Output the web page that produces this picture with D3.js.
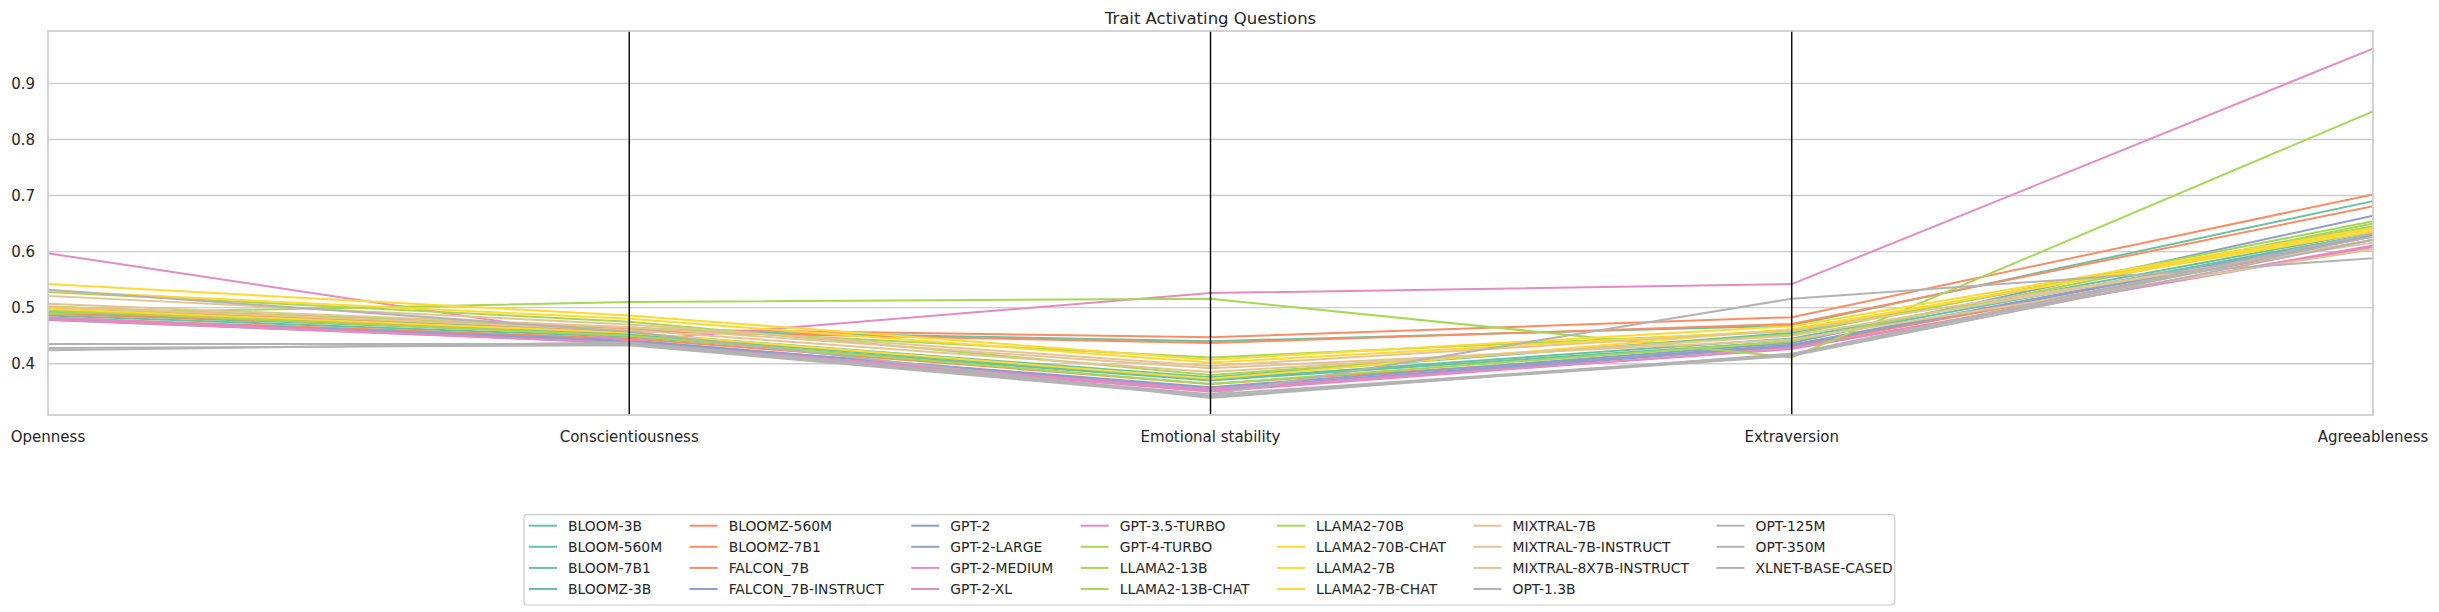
<!DOCTYPE html>
<html>
<head>
<meta charset="utf-8">
<script src="https://cdn.jsdelivr.net/npm/d3@7"></script>
<style>
  body { margin: 0; background: #fff; }
  text { font-family: "DejaVu Sans", sans-serif; fill: #262626; }
</style>
</head>
<body>
<div id="main"></div>
<script>
var traits = ["Openness", "Conscientiousness", "Emotional stability", "Extraversion", "Agreeableness"];

var models = [
    "BLOOM-3B", "BLOOM-560M", "BLOOM-7B1", "BLOOMZ-3B",
    "BLOOMZ-560M", "BLOOMZ-7B1", "FALCON_7B", "FALCON_7B-INSTRUCT",
    "GPT-2", "GPT-2-LARGE", "GPT-2-MEDIUM", "GPT-2-XL",
    "GPT-3.5-TURBO", "GPT-4-TURBO", "LLAMA2-13B", "LLAMA2-13B-CHAT",
    "LLAMA2-70B", "LLAMA2-70B-CHAT", "LLAMA2-7B", "LLAMA2-7B-CHAT",
    "MIXTRAL-7B", "MIXTRAL-7B-INSTRUCT", "MIXTRAL-8X7B-INSTRUCT", "OPT-1.3B",
    "OPT-125M", "OPT-350M", "XLNET-BASE-CASED"
];

// one row per model, in trait order
var scores = [
    [0.493, 0.455, 0.376, 0.455, 0.645],
    [0.490, 0.452, 0.372, 0.445, 0.636],
    [0.495, 0.460, 0.440, 0.468, 0.690],
    [0.486, 0.448, 0.370, 0.440, 0.632],
    [0.482, 0.445, 0.364, 0.430, 0.621],
    [0.498, 0.462, 0.447, 0.483, 0.702],
    [0.489, 0.458, 0.437, 0.471, 0.681],
    [0.480, 0.440, 0.358, 0.437, 0.664],
    [0.478, 0.438, 0.352, 0.432, 0.627],
    [0.481, 0.442, 0.355, 0.434, 0.630],
    [0.479, 0.437, 0.354, 0.426, 0.611],
    [0.483, 0.436, 0.350, 0.428, 0.608],
    [0.597, 0.441, 0.526, 0.542, 0.962],
    [0.489, 0.510, 0.516, 0.411, 0.850],
    [0.495, 0.450, 0.364, 0.440, 0.650],
    [0.528, 0.475, 0.380, 0.452, 0.654],
    [0.502, 0.465, 0.411, 0.458, 0.645],
    [0.542, 0.486, 0.407, 0.467, 0.642],
    [0.498, 0.455, 0.373, 0.462, 0.636],
    [0.530, 0.480, 0.402, 0.460, 0.640],
    [0.521, 0.470, 0.396, 0.459, 0.616],
    [0.507, 0.465, 0.392, 0.443, 0.604],
    [0.502, 0.460, 0.385, 0.450, 0.620],
    [0.435, 0.435, 0.345, 0.416, 0.627],
    [0.428, 0.433, 0.342, 0.414, 0.621],
    [0.532, 0.457, 0.339, 0.418, 0.632],
    [0.424, 0.438, 0.345, 0.516, 0.588]
];

var yTicks = [0.4, 0.5, 0.6, 0.7, 0.8, 0.9];
var set2 = ["#66c2a5", "#fc8d62", "#8da0cb", "#e78ac3", "#a6d854", "#ffd92f", "#e5c494", "#b3b3b3"];

var ctx = {
    w: 2439,
    h: 612,
    left: 48,
    right: 2373,
    top: 31,
    bottom: 415,
};

// Set2 sampled evenly over the models, like a listed colormap
var colorOf = function (i) {
    var k = Math.floor(i / (models.length - 1) * set2.length);
    return set2[Math.min(k, set2.length - 1)];
};

var svg = d3.select("#main").append("svg")
    .attr("width", ctx.w)
    .attr("height", ctx.h);

var x = d3.scalePoint().domain(traits).range([ctx.left, ctx.right]);
var y = d3.scaleLinear().domain([0.3085, 0.9935]).range([ctx.bottom, ctx.top]);

// horizontal grid
svg.append("g").selectAll("line")
    .data(yTicks).enter().append("line")
    .attr("x1", ctx.left).attr("x2", ctx.right)
    .attr("y1", d => y(d)).attr("y2", d => y(d))
    .attr("stroke", "#cccccc").attr("stroke-width", 1.4);

// series
var line = d3.line().x((d, i) => x(traits[i])).y(d => y(d));
svg.append("g").attr("id", "series").selectAll("path")
    .data(scores).enter().append("path")
    .attr("d", d => line(d))
    .attr("fill", "none")
    .attr("stroke", (d, i) => colorOf(i))
    .attr("stroke-width", 2);

// inner trait axes
svg.append("g").selectAll("line")
    .data(traits.slice(1, -1)).enter().append("line")
    .attr("x1", d => x(d)).attr("x2", d => x(d))
    .attr("y1", ctx.top).attr("y2", ctx.bottom)
    .attr("stroke", "#000").attr("stroke-width", 1.4);

// frame
svg.append("rect")
    .attr("x", ctx.left).attr("y", ctx.top)
    .attr("width", ctx.right - ctx.left).attr("height", ctx.bottom - ctx.top)
    .attr("fill", "none").attr("stroke", "#cccccc").attr("stroke-width", 1.7);

// y tick labels
svg.append("g").selectAll("text")
    .data(yTicks).enter().append("text")
    .attr("x", 35).attr("y", d => y(d)).attr("dy", "0.35em")
    .attr("text-anchor", "end").style("font-size", "15px")
    .text(d3.format(".1f"));

// x tick labels
svg.append("g").selectAll("text")
    .data(traits).enter().append("text")
    .attr("x", d => x(d)).attr("y", 437).attr("dy", "0.35em")
    .attr("text-anchor", "middle").style("font-size", "15px")
    .text(d => d);

svg.append("text")
    .attr("x", (ctx.left + ctx.right) / 2).attr("y", 24)
    .attr("text-anchor", "middle").style("font-size", "16.5px")
    .text("Trait Activating Questions");

// legend, 7 columns of 4 rows, filled column by column
var nRows = 4, fs = 13.9;
var leg = svg.append("g");
var box = leg.append("rect")
    .attr("fill", "#fff").attr("stroke", "#cccccc").attr("stroke-width", 1.2)
    .attr("rx", 3);
var items = leg.selectAll("g.item")
    .data(models).enter().append("g").attr("class", "item");
items.append("text")
    .style("font-size", fs + "px").attr("dy", "0.35em")
    .text(d => d);

var nCols = Math.ceil(models.length / nRows);
var colW = [];
items.each(function (d, i) {
    var c = Math.floor(i / nRows);
    var w = this.querySelector("text").getComputedTextLength();
    colW[c] = Math.max(colW[c] || 0, w);
});
var handleLen = 28, handlePad = 11, colSpace = 27.5, legLeft = 524, legTop = 514.7;
var colX = [legLeft + 5];
for (var c = 1; c < nCols; c++) {
    colX[c] = colX[c - 1] + handleLen + handlePad + colW[c - 1] + colSpace;
}
items.attr("transform", function (d, i) {
    var c = Math.floor(i / nRows), r = i % nRows;
    return "translate(" + colX[c] + "," + (525.7 + r * 21.1) + ")";
});
items.append("line")
    .attr("x1", 0).attr("x2", handleLen)
    .attr("stroke", (d, i) => colorOf(i)).attr("stroke-width", 2);
items.select("text").attr("x", handleLen + handlePad);

var legRight = colX[nCols - 1] + handleLen + handlePad + colW[nCols - 1] + 2;
box.attr("x", legLeft).attr("y", legTop)
    .attr("width", legRight - legLeft).attr("height", 605 - legTop);
</script>
</body>
</html>
